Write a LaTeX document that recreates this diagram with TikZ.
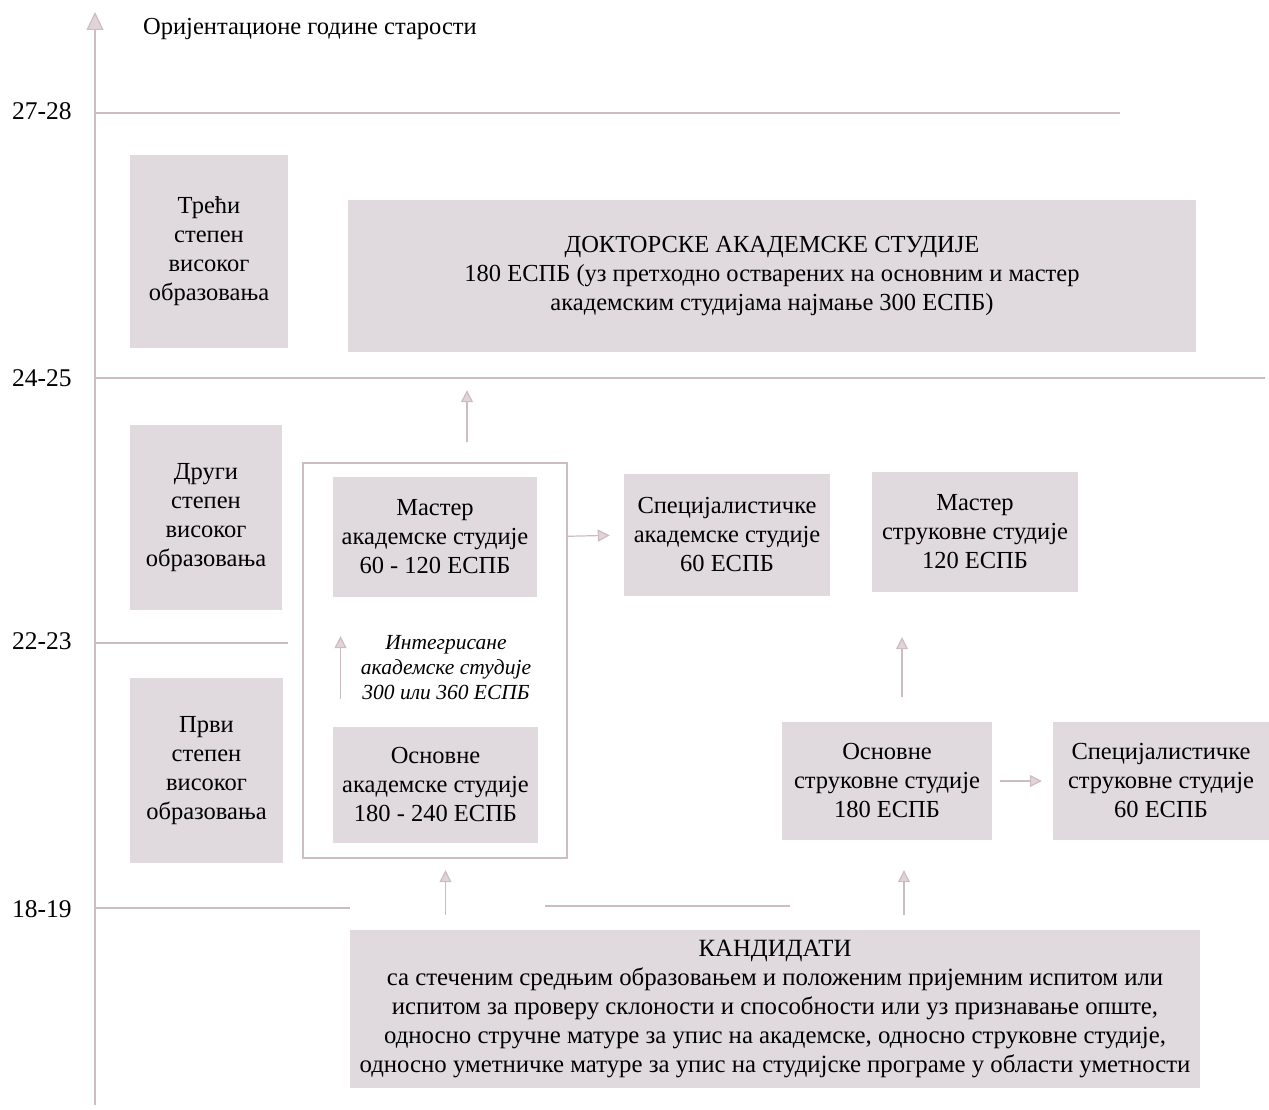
\documentclass[tikz,border=0pt]{standalone}
\usepackage{fontspec}
\setmainfont{Liberation Serif}
\usetikzlibrary{arrows.meta,calc}
\definecolor{boxfill}{RGB}{224,217,221}
\definecolor{linecol}{RGB}{205,188,194}
\definecolor{arrowfill}{RGB}{225,212,216}
\tikzset{
  box/.style={fill=boxfill, draw=none, align=center, inner sep=0pt,
    font=\fontsize{24.5}{29}\selectfont},
  ruleline/.style={draw=linecol, line width=1.2pt},
  arr/.style={draw=linecol, line width=1.2pt,
    -{Triangle[length=12pt,width=12pt,fill=arrowfill]}},
  agelabel/.style={anchor=west, inner sep=0pt, font=\fontsize{25.5}{28}\selectfont},
}
\begin{document}
\begin{tikzpicture}[x=1pt,y=-1pt]
\useasboundingbox (0,0) rectangle (1269,1110);
% axis
\coordinate (axb) at (95,1105);
\coordinate (axt) at (95,12);
\draw[draw=linecol, line width=1.2pt, -{Triangle[length=18pt,width=17pt,fill=arrowfill]}] (axb) -- (axt);
\node[anchor=west, inner sep=0pt, font=\fontsize{24.5}{28}\selectfont] (axtitle) at (143,29) {Оријентационе године старости};
% age levels
\node[agelabel] (l28) at (12,111) {27-28};
\node[agelabel] (l25) at (12,378) {24-25};
\node[agelabel] (l23) at (12,641) {22-23};
\node[agelabel] (l19) at (12,909) {18-19};
\coordinate (e28) at (1120,113);
\coordinate (e25) at (1265,378);
\coordinate (e23) at (288,643);
\coordinate (e19a) at (350,908);
\coordinate (e19b) at (545,906);
\coordinate (e19c) at (790,906);
\draw[ruleline] (95,113) -- (e28);
\draw[ruleline] (95,378) -- (e25);
\draw[ruleline] (95,643) -- (e23);
\draw[ruleline] (95,908) -- (e19a);
\draw[ruleline] (e19b) -- (e19c);
% left level boxes
\node[box, minimum width=158, minimum height=193] (treci) at (209,251.5) {Трећи\\степен\\високог\\образовања};
\node[box, minimum width=152, minimum height=185] (drugi) at (206,517.5) {Други\\степен\\високог\\образовања};
\node[box, minimum width=153, minimum height=185] (prvi) at (206.5,770.5) {Први\\степен\\високог\\образовања};
% doctoral
\node[box, minimum width=848, minimum height=152] (doktor) at (772,276) {ДОКТОРСКЕ АКАДЕМСКЕ СТУДИЈЕ\\180 ЕСПБ (уз претходно остварених на основним и мастер\\академским студијама најмање 300 ЕСПБ)};
% integrated frame
\node[draw=linecol, line width=1.2pt, minimum width=264, minimum height=395, inner sep=0pt] (integ) at (435,660.5) {};
\node[box, minimum width=204, minimum height=120] (mastA) at (435,537) {Мастер\\академске студије\\60 - 120 ЕСПБ};
\node[box, minimum width=205, minimum height=116] (osnA) at (435.5,785) {Основне\\академске студије\\180 - 240 ЕСПБ};
\node[align=center, inner sep=0pt, font=\itshape\fontsize{21.5}{25}\selectfont] (integtxt) at (446,668) {Интегрисане\\академске студије\\300 или 360 ЕСПБ};
\node[box, minimum width=206, minimum height=122] (specA) at (727,535) {Специјалистичке\\академске студије\\60 ЕСПБ};
\node[box, minimum width=206, minimum height=120] (mastS) at (975,532) {Мастер\\струковне студије\\120 ЕСПБ};
\node[box, minimum width=210, minimum height=118] (osnS) at (887,781) {Основне\\струковне студије\\180 ЕСПБ};
\node[box, minimum width=216, minimum height=118] (specS) at (1161,781) {Специјалистичке\\струковне студије\\60 ЕСПБ};
% candidates
\node[box, minimum width=850, minimum height=158, font=\fontsize{24.8}{29}\selectfont] (kand) at (775,1009) {КАНДИДАТИ\\са стеченим средњим образовањем и положеним пријемним испитом или\\испитом за проверу склоности и способности или уз признавање опште,\\односно стручне матуре за упис на академске, односно струковне студије,\\односно уметничке матуре за упис на студијске програме у области уметности};
% arrows
\draw[arr, shorten <=20pt, shorten >=38pt] ([xshift=32pt]integ.north) -- ([xshift=32pt]integ.north |- doktor.south);
\draw[arr, shorten <=31pt, shorten >=14pt] (mastA.east) -- (specA.west);
\draw[arr, shorten <=8pt, shorten >=11pt] (osnS.east) -- (specS.west);
\draw[arr, shorten <=25pt, shorten >=45pt] ([xshift=15pt]osnS.north) -- ([xshift=15pt]osnS.north |- mastS.south);
\draw[arr, shorten <=15pt, shorten >=27pt] ([xshift=10pt]kand.north -| osnA.south) -- ([xshift=10pt]osnA.south);
\draw[arr, shorten <=15pt, shorten >=30pt] ([xshift=17pt]kand.north -| osnS.south) -- ([xshift=17pt]osnS.south);
\draw[arr, shorten <=28pt, shorten >=39pt] ([xshift=-95pt]osnA.north) -- ([xshift=-95pt]osnA.north |- mastA.south);
\end{tikzpicture}
\end{document}
